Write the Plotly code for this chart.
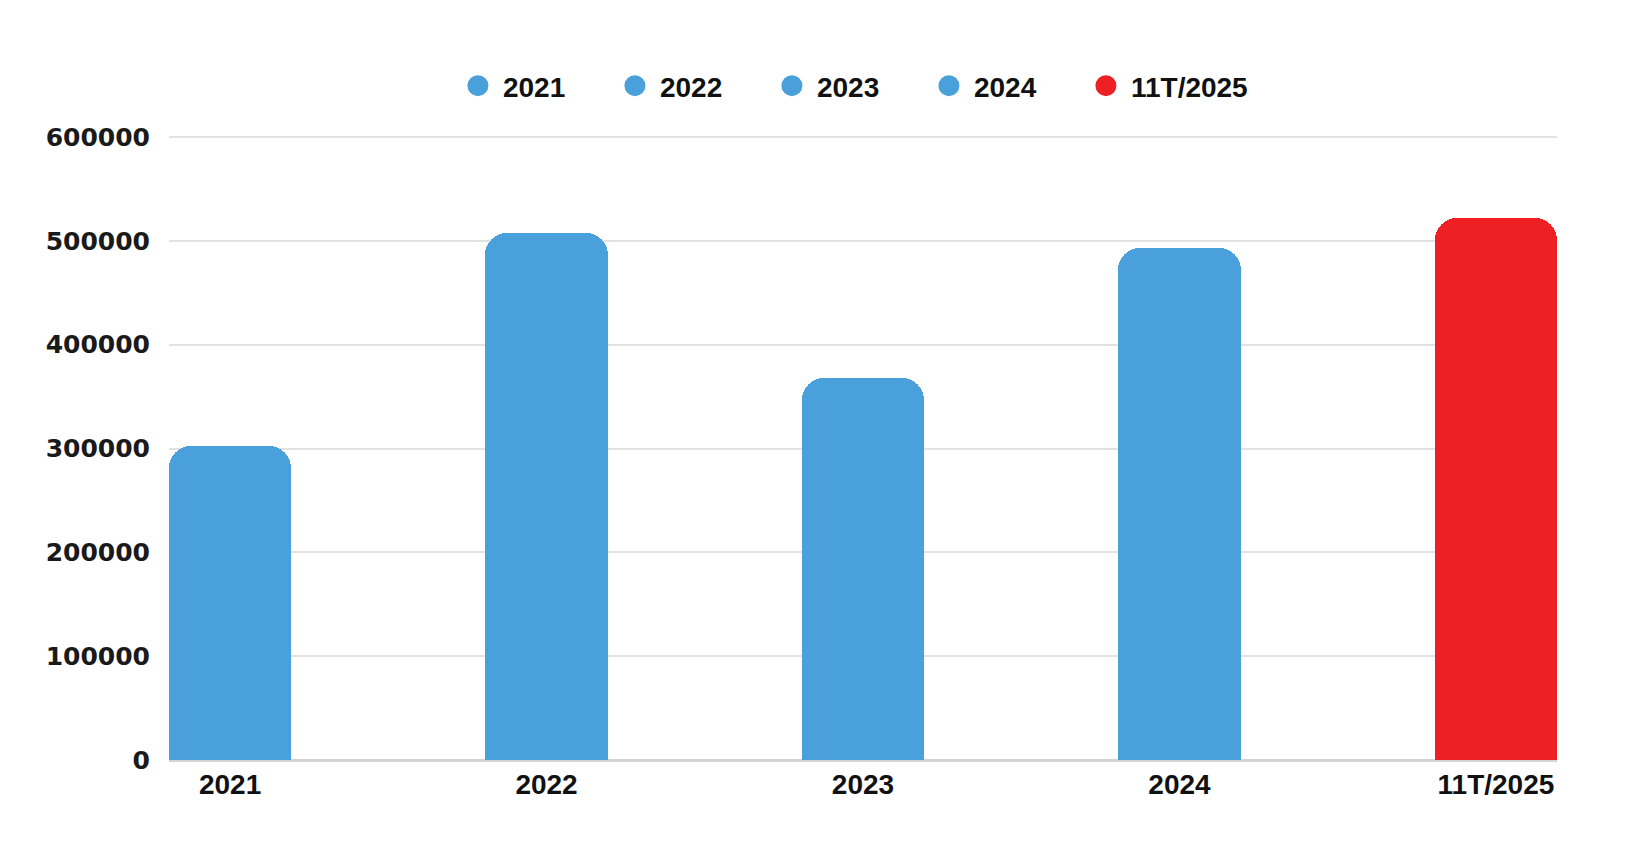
import plotly.graph_objects as go

categories = ["2021", "2022", "2023", "2024", "11T/2025"]
values = [302000, 508000, 368000, 493000, 522000]
colors = ["#4AA0DA", "#4AA0DA", "#4AA0DA", "#4AA0DA", "#EE2024"]
y_ticks = [0, 100000, 200000, 300000, 400000, 500000, 600000]
legend_widths = [102, 102, 102, 102, 150]

fig = go.Figure()
fig.add_trace(go.Bar(
    x=categories, y=values, marker=dict(color=colors, cornerradius=22, line=dict(width=0)),
    width=0.386, showlegend=False, hoverinfo="x+y",
))
for c, col, lw in zip(categories, colors, legend_widths):
    fig.add_trace(go.Scatter(
        x=[None], y=[None], mode="markers", name=c, legendwidth=lw,
        marker=dict(symbol="circle", size=16, color=col, line=dict(color=col, width=5)),
    ))

fig.update_layout(
    width=1625, height=855,
    paper_bgcolor="white", plot_bgcolor="white",
    margin=dict(l=161, r=76, t=126, b=103),
    bargap=0,
    legend=dict(
        orientation="h", xref="container", yref="container",
        x=0.2738, xanchor="left", y=1 - 78 / 855, yanchor="middle",
        font=dict(family="Liberation Sans", size=28, color="#111111", weight="bold"),
        itemwidth=40, itemclick=False, itemdoubleclick=False,
    ),
    xaxis=dict(
        type="category", range=[-0.193, 4.193],
        showgrid=False, showline=False, zeroline=False,
        tickfont=dict(family="Liberation Sans", size=28, color="#111111", weight="bold"),
        ticks="", ticklabelstandoff=5,
    ),
    yaxis=dict(
        range=[0, 603000], tickvals=y_ticks, ticktext=[str(v) for v in y_ticks],
        showgrid=True, gridcolor="#e2e2e2", gridwidth=2,
        zeroline=True, zerolinecolor="#d4d4d4", zerolinewidth=3,
        tickfont=dict(family="DejaVu Sans", size=25, color="#1a1a1a", weight="bold"),
        ticks="", ticklabelstandoff=18,
    ),
)
fig.write_html("out.html")
